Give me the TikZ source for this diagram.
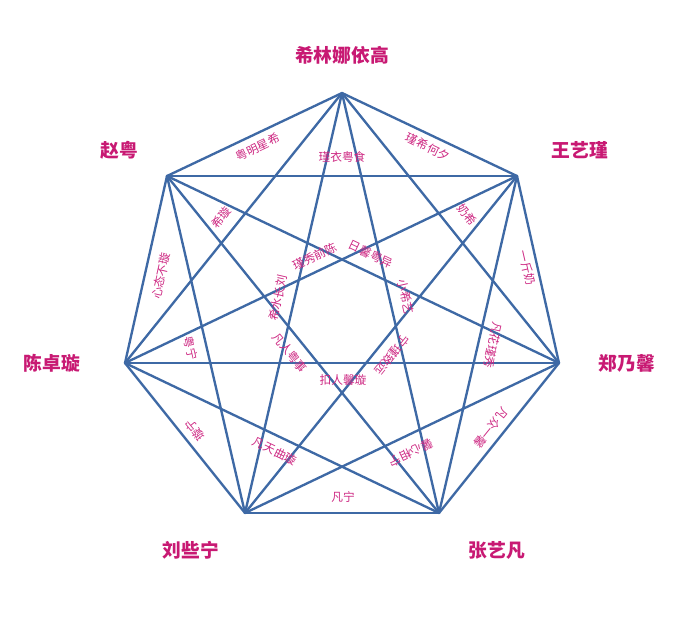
\documentclass[tikz,border=0pt]{standalone}
\usepackage{fontspec}
\newfontfamily\cjk{Noto Sans CJK SC}
\definecolor{lineblue}{RGB}{62,105,165}
\definecolor{labmag}{RGB}{205,40,130}
\definecolor{vmag}{RGB}{200,25,115}
\begin{document}
\begin{tikzpicture}[x=0.03cm,y=-0.03cm,
  edge/.style={draw=lineblue, line width=2pt, line cap=round},
  elab/.style={text=labmag, font=\cjk\fontsize{10}{12}\selectfont, inner sep=0pt},
  vlab/.style={text=vmag, font=\cjk\bfseries\fontsize{16}{19}\selectfont, inner sep=0pt}]
\useasboundingbox (0,0) rectangle (690,634);
% vertices
\node[coordinate] (A) at (342,93) {};
\node[coordinate] (B) at (517,176) {};
\node[coordinate] (C) at (559,363) {};
\node[coordinate] (D) at (439,513) {};
\node[coordinate] (E) at (245,513) {};
\node[coordinate] (F) at (125,363) {};
\node[coordinate] (G) at (167,176) {};
% all 21 connectors
\foreach \u/\v in {A/B,B/C,C/D,D/E,E/F,F/G,G/A,
                   A/C,B/D,C/E,D/F,E/G,F/A,G/B,
                   A/D,B/E,C/F,D/G,E/A,F/B,G/C}
  \draw[edge] (\u) -- (\v);
% vertex labels
\node[vlab] (lA) at (342,55) {希林娜依高};
\node[vlab] (lB) at (580,150) {王艺瑾};
\node[vlab] (lC) at (627,363) {郑乃馨};
\node[vlab] (lD) at (497,550) {张艺凡};
\node[vlab] (lE) at (191,550) {刘些宁};
\node[vlab] (lF) at (52,363) {陈卓璇};
\node[vlab] (lG) at (119,150) {赵粤};
% side labels
\node[elab, rotate=25.5] (eGA) at (258,147) {粤明星希};
\node[elab, rotate=-25.5] (eAB) at (428,147) {瑾希何夕};
\node[elab, rotate=-77] (eBC) at (527,268) {一斤奶};
\node[elab, rotate=-129] (eCD) at (491,428) {凡众一馨};
\node[elab] (eDE) at (343,497) {凡宁};
\node[elab, rotate=129] (eEF) at (195,430) {璇宁};
\node[elab, rotate=77] (eFG) at (161,276) {心态不璇};
% skip-2 labels
\node[elab] (eGB) at (342,157) {瑾衣粤食};
\node[elab, rotate=51] (eFA) at (221,218) {希璇};
\node[elab, rotate=-51] (eAC) at (467,215) {奶希};
\node[elab, rotate=-103] (eBD) at (493,345) {凡花瑾秀};
\node[elab, rotate=-154.5] (eCE) at (411,453) {馨心相宁};
\node[elab, rotate=-25.5] (eDF) at (275,451) {凡天曲璇};
\node[elab, rotate=-77] (eEG) at (191,348) {粤宁};
% skip-3 labels (inner star)
\node[elab, rotate=25.5] (eFB) at (315,256) {瑾秀前陈};
\node[elab, rotate=-25.5] (eGC) at (371,254) {日馨粤异};
\node[elab, rotate=-77] (eAD) at (406,297) {小希艺};
\node[elab, rotate=-129] (eBE) at (392,355) {宁瑾致远};
\node[elab] (eCF) at (343,380) {扣人馨璇};
\node[elab, rotate=-51] (eDG) at (290,353) {凡人粤事};
\node[elab, rotate=77] (eEA) at (278,298) {希水长刘};
\end{tikzpicture}
\end{document}
